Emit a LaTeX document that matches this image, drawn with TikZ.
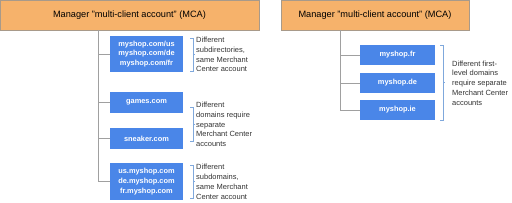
\documentclass[tikz,border=0pt]{standalone}
\usepackage{fontspec}
\setmainfont{Liberation Sans}
\definecolor{mcaorange}{HTML}{F6B26B}
\definecolor{mcaborder}{HTML}{A89A8A}
\definecolor{gblue}{HTML}{4A86E8}
\definecolor{bracketblue}{HTML}{7FA8DC}
\definecolor{linegray}{HTML}{A0A0A0}
\definecolor{txtgray}{HTML}{333333}
\begin{document}
\begin{tikzpicture}[x=1pt,y=-1pt,
  mca/.style={draw=mcaborder,line width=0.8pt,fill=mcaorange,inner sep=0pt,font=\fontsize{9.2}{11}\selectfont,text=black},
  site/.style={fill=gblue,inner sep=0pt,text=white,font=\bfseries\fontsize{7.4}{9.6}\selectfont,align=center},
  desc/.style={anchor=west,inner sep=0pt,align=left,text=txtgray,font=\fontsize{7.5}{9.8}\selectfont},
  conn/.style={draw=linegray,line width=0.8pt},
  brk/.style={draw=bracketblue,line width=0.7pt}]
\useasboundingbox (0,0) rectangle (512,202);
% left
\node[mca,minimum width=259pt,minimum height=30pt] (mcaL) at (129.5,15) {Manager "multi-client account" (MCA)};
\node[site,minimum width=73pt,minimum height=36pt] (b1) at (146.5,54) {myshop.com/us\\myshop.com/de\\myshop.com/fr};
\node[site,minimum width=73pt,minimum height=21pt] (b2) at (146.5,102.5) {games.com};
\node[site,minimum width=73pt,minimum height=21pt] (b3) at (146.5,138.5) {sneaker.com};
\node[site,minimum width=73pt,minimum height=37pt] (b4) at (146.5,181.5) {us.myshop.com\\de.myshop.com\\fr.myshop.com};
\coordinate (tL) at (98,30);
\draw[conn] (tL) |- (b4.west);
\draw[conn] (tL |- b1.west) -- (b1.west);
\draw[conn] (tL |- b2.west) -- (b2.west);
\draw[conn] (tL |- b3.west) -- (b3.west);
% brackets left
\coordinate (k1a) at (190,38); \coordinate (k1b) at (190,71);
\coordinate (k2a) at (190,107); \coordinate (k2b) at (190,141);
\coordinate (k3a) at (190,165); \coordinate (k3b) at (190,198);
\foreach \a/\b in {k1a/k1b,k2a/k2b,k3a/k3b}{
  \draw[brk] (\a) -- ++(3,0) -- ([xshift=3pt]\b) -- (\b);
}
\path (k1a) -- (k1b) coordinate[pos=0.5] (m1);
\path (k2a) -- (k2b) coordinate[pos=0.5] (m2);
\path (k3a) -- (k3b) coordinate[pos=0.5] (m3);
\draw[brk] ([xshift=3pt]m1) -- ++(2,0);
\draw[brk] ([xshift=3pt]m2) -- ++(2,0);
\draw[brk] ([xshift=3pt]m3) -- ++(2,0);
\node[desc] (d1) at (196,54.5) {Different\\subdirectories,\\same Merchant\\Center account};
\node[desc] (d2) at (196,124.5) {Different\\domains require\\separate\\Merchant Center\\accounts};
\node[desc] (d3) at (196,182) {Different\\subdomains,\\same Merchant\\Center account};
% right
\node[mca,minimum width=188pt,minimum height=30pt] (mcaR) at (375,15) {Manager "multi-client account" (MCA)};
\node[site,minimum width=75pt,minimum height=20pt] (r1) at (397.5,55) {myshop.fr};
\node[site,minimum width=75pt,minimum height=20pt] (r2) at (397.5,83) {myshop.de};
\node[site,minimum width=75pt,minimum height=20pt] (r3) at (397.5,110) {myshop.ie};
\coordinate (tR) at (340,30);
\draw[conn] (tR) |- (r3.west);
\draw[conn] (tR |- r1.west) -- (r1.west);
\draw[conn] (tR |- r2.west) -- (r2.west);
\coordinate (k4a) at (440,45); \coordinate (k4b) at (440,120);
\draw[brk] (k4a) -- ++(3,0) -- ([xshift=3pt]k4b) -- (k4b);
\path (k4a) -- (k4b) coordinate[pos=0.5] (m4);
\draw[brk] ([xshift=3pt]m4) -- ++(2,0);
\node[desc] (d4) at (452,83) {Different first-\\level domains\\require separate\\Merchant Center\\accounts};
\end{tikzpicture}
\end{document}
